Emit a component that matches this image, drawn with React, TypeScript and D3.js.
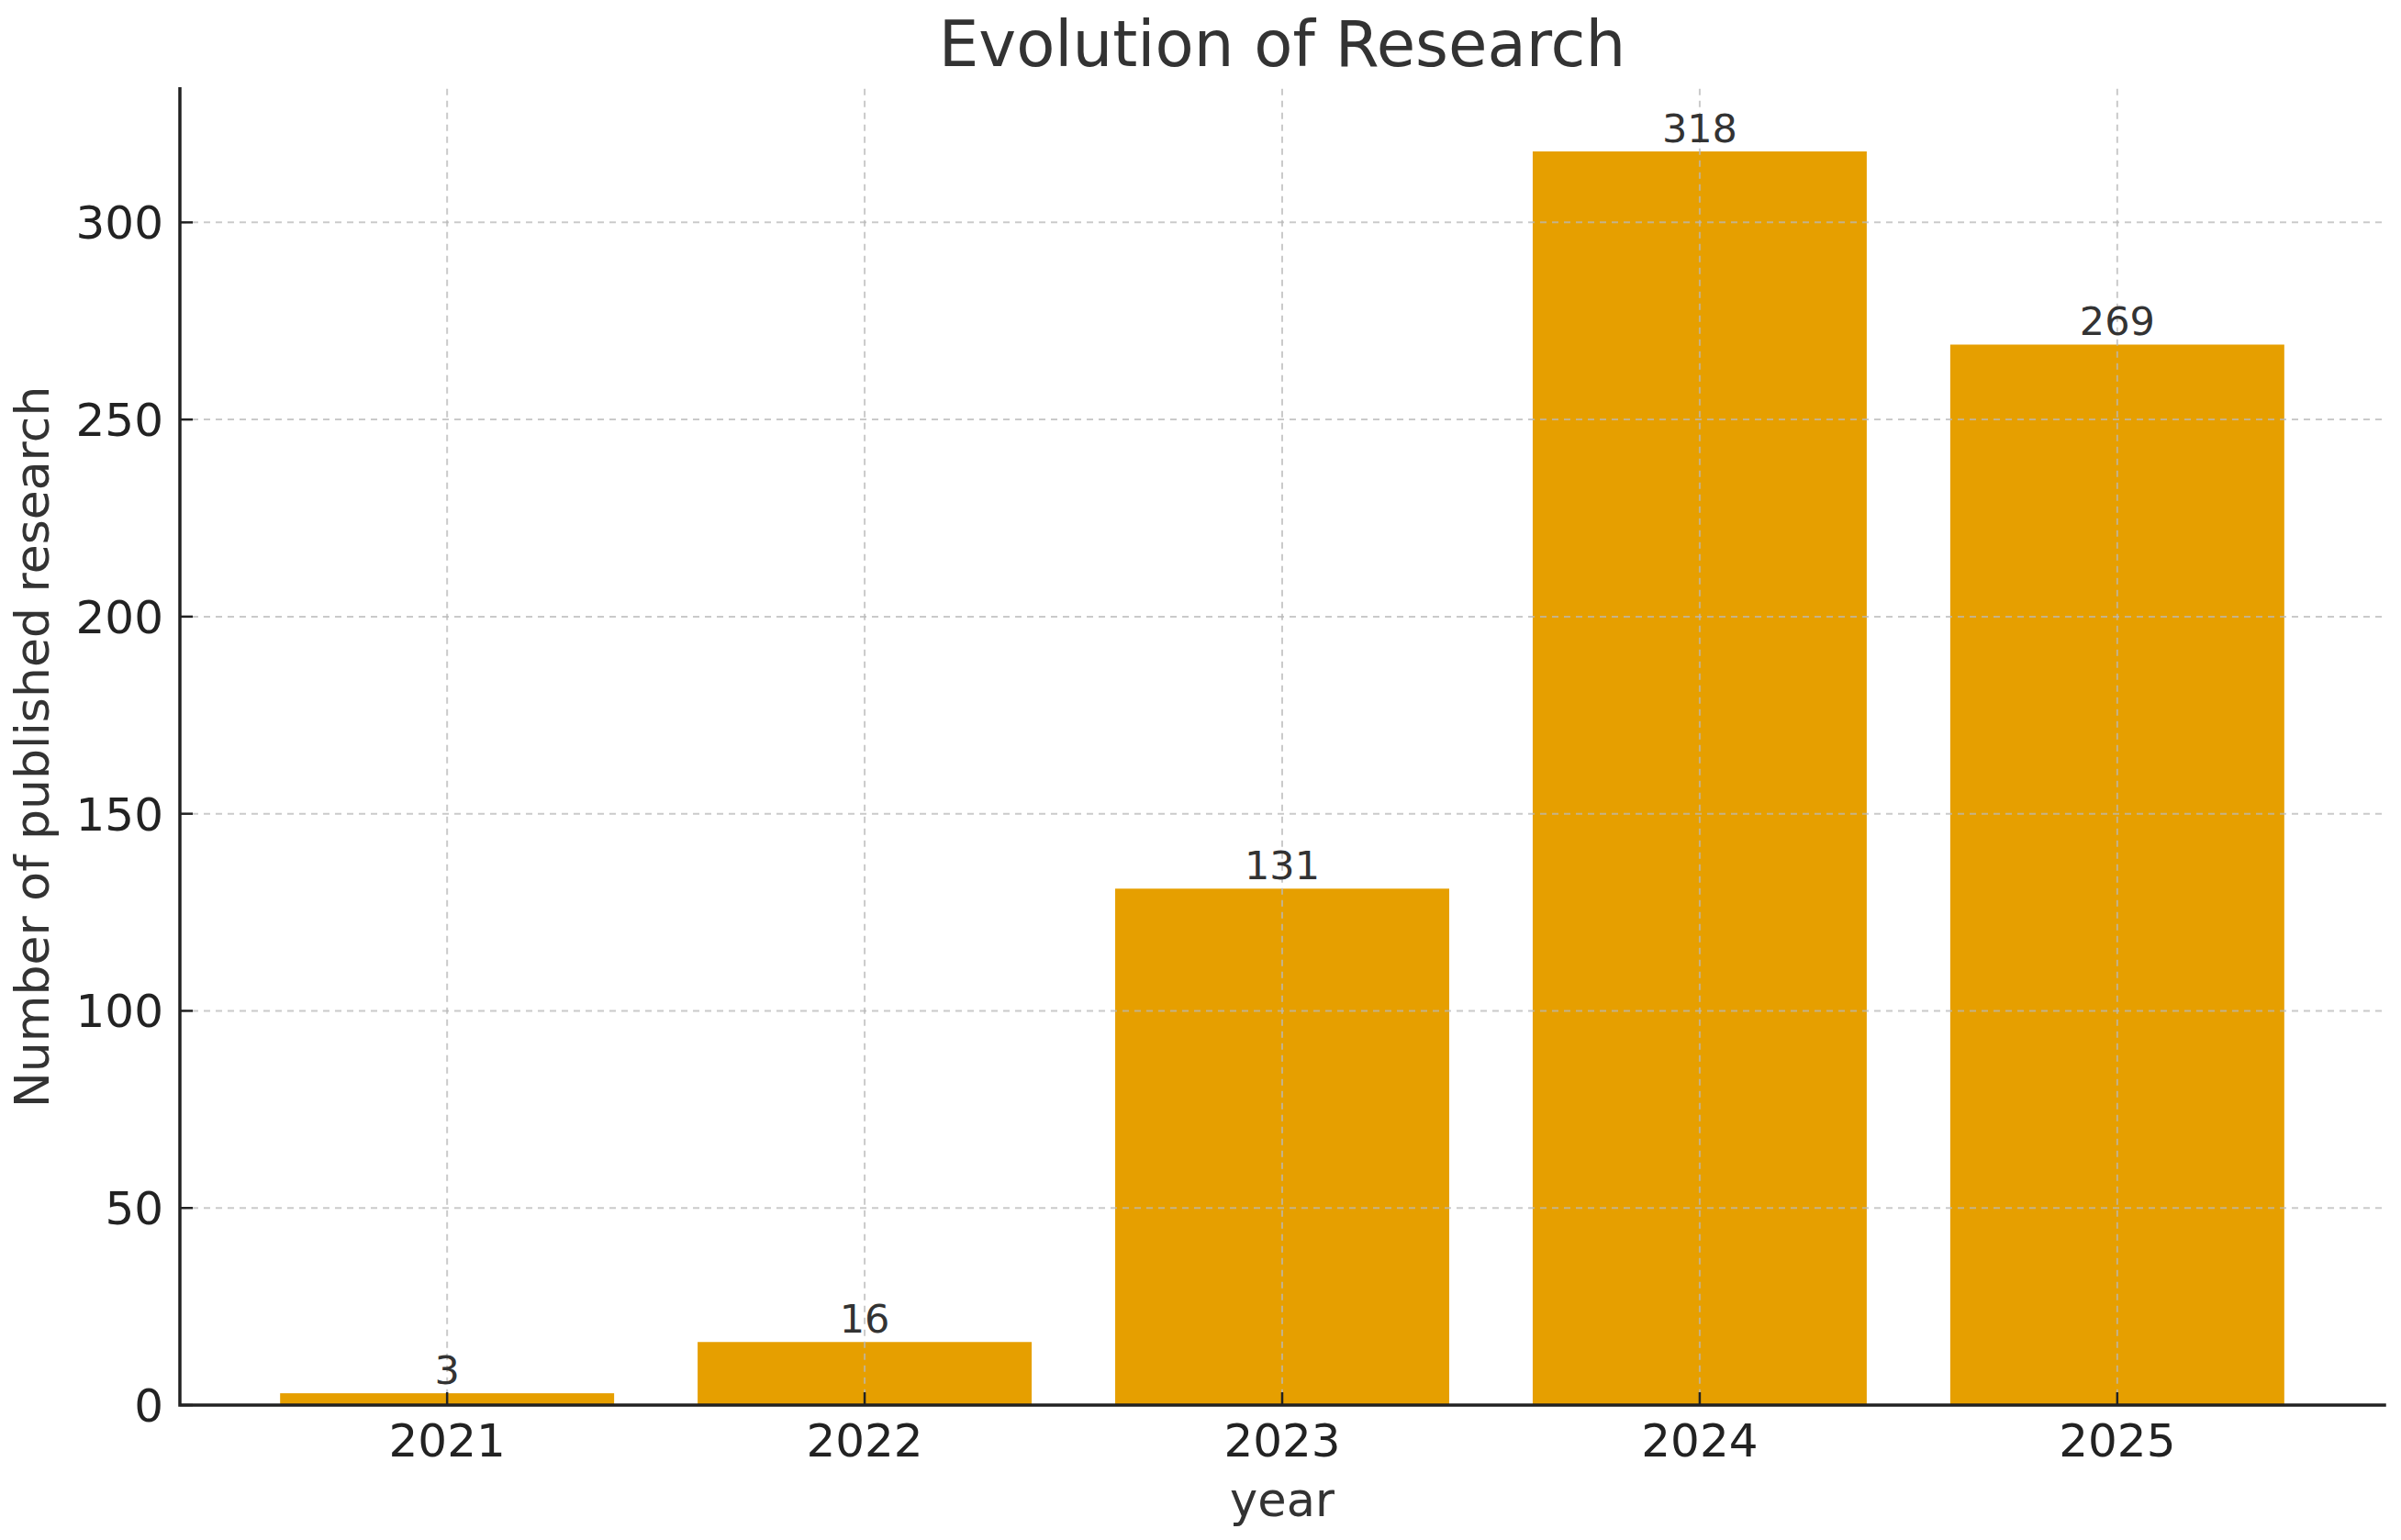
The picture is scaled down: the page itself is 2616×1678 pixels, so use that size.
import { useRef, useEffect } from 'react';
import * as d3 from 'd3';

const YEARS = ['2021', '2022', '2023', '2024', '2025'];
const COUNTS = [3, 16, 131, 318, 269];
const Y_TICKS = [0, 50, 100, 150, 200, 250, 300];

const W = 2616;
const H = 1678;
const FONT = '"DejaVu Sans", Verdana, sans-serif';
const BAR_COLOR = '#E69F00';

export default function App() {
  const svgRef = useRef<SVGSVGElement>(null);

  useEffect(() => {
    if (!svgRef.current) return;
    const svg = d3.select(svgRef.current);
    svg.selectAll('*').remove();

    const left = 196;
    const right = 2598;
    const bottom = 1531;
    const top = 96.7;

    // matplotlib-like: bar width 0.8, 5% margins
    const barW = 0.8;
    const span = YEARS.length - 1 + barW;
    const pad = span * 0.05;
    const xScale = d3
      .scaleLinear()
      .domain([-barW / 2 - pad, YEARS.length - 1 + barW / 2 + pad])
      .range([left, right]);
    const yScale = d3
      .scaleLinear()
      .domain([0, (d3.max(COUNTS) ?? 0) * 1.05])
      .range([bottom, top]);

    svg.append('rect').attr('width', W).attr('height', H).attr('fill', '#fff');

    // Bars
    svg
      .append('g')
      .selectAll('rect')
      .data(COUNTS)
      .join('rect')
      .attr('x', (_d, i) => xScale(i - barW / 2))
      .attr('width', (_d, i) => xScale(i + barW / 2) - xScale(i - barW / 2))
      .attr('y', (d) => yScale(d))
      .attr('height', (d) => bottom - yScale(d))
      .attr('fill', BAR_COLOR);

    // Grid
    const grid = svg.append('g').attr('stroke', '#b8b8b8').attr('stroke-opacity', 0.75).attr('stroke-width', 2).attr('stroke-dasharray', '7,6');
    grid
      .selectAll('line.h')
      .data(Y_TICKS)
      .join('line')
      .attr('class', 'h')
      .attr('x1', left)
      .attr('x2', right)
      .attr('y1', (d) => yScale(d))
      .attr('y2', (d) => yScale(d));
    grid
      .selectAll('line.v')
      .data(YEARS)
      .join('line')
      .attr('class', 'v')
      .attr('x1', (_d, i) => xScale(i))
      .attr('x2', (_d, i) => xScale(i))
      .attr('y1', top)
      .attr('y2', bottom);

    // Ticks (inward)
    const ticks = svg.append('g').attr('stroke', '#222').attr('stroke-width', 2.5);
    ticks
      .selectAll('line.y')
      .data(Y_TICKS)
      .join('line')
      .attr('class', 'y')
      .attr('x1', left)
      .attr('x2', left + 14)
      .attr('y1', (d) => yScale(d))
      .attr('y2', (d) => yScale(d));
    ticks
      .selectAll('line.x')
      .data(YEARS)
      .join('line')
      .attr('class', 'x')
      .attr('x1', (_d, i) => xScale(i))
      .attr('x2', (_d, i) => xScale(i))
      .attr('y1', bottom)
      .attr('y2', bottom - 14);

    // Spines
    svg
      .append('path')
      .attr('d', `M${left},${top} L${left},${bottom} L${right},${bottom}`)
      .attr('fill', 'none')
      .attr('stroke', '#222')
      .attr('stroke-width', 3.5)
      .attr('stroke-linecap', 'square');

    // Tick labels
    svg
      .append('g')
      .selectAll('text')
      .data(Y_TICKS)
      .join('text')
      .attr('x', left - 18)
      .attr('y', (d) => yScale(d))
      .attr('dy', '0.36em')
      .attr('text-anchor', 'end')
      .attr('font-family', FONT)
      .attr('font-size', 50)
      .attr('fill', '#222')
      .text((d) => d);
    svg
      .append('g')
      .selectAll('text')
      .data(YEARS)
      .join('text')
      .attr('x', (_d, i) => xScale(i))
      .attr('y', 1587)
      .attr('text-anchor', 'middle')
      .attr('font-family', FONT)
      .attr('font-size', 50)
      .attr('fill', '#222')
      .text((d) => d);

    // Value labels
    svg
      .append('g')
      .selectAll('text')
      .data(COUNTS)
      .join('text')
      .attr('x', (_d, i) => xScale(i))
      .attr('y', (d) => yScale(d) - 10)
      .attr('text-anchor', 'middle')
      .attr('font-family', FONT)
      .attr('font-size', 43)
      .attr('fill', '#333')
      .text((d) => d);

    // Axis titles
    svg
      .append('text')
      .attr('x', (left + right) / 2)
      .attr('y', 1652)
      .attr('text-anchor', 'middle')
      .attr('font-family', FONT)
      .attr('font-size', 51)
      .attr('fill', '#333')
      .text('year');
    svg
      .append('text')
      .attr('transform', `translate(53,${(top + bottom) / 2}) rotate(-90)`)
      .attr('text-anchor', 'middle')
      .attr('font-family', FONT)
      .attr('font-size', 52)
      .attr('fill', '#333')
      .text('Number of published research');

    // Title
    svg
      .append('text')
      .attr('x', (left + right) / 2)
      .attr('y', 72)
      .attr('text-anchor', 'middle')
      .attr('font-family', FONT)
      .attr('font-size', 69)
      .attr('fill', '#333')
      .text('Evolution of Research');
  }, []);

  return (
    <div style={{ position: 'absolute', left: 0, top: 0 }}>
      <svg ref={svgRef} width={W} height={H} style={{ display: 'block' }} />
    </div>
  );
}
